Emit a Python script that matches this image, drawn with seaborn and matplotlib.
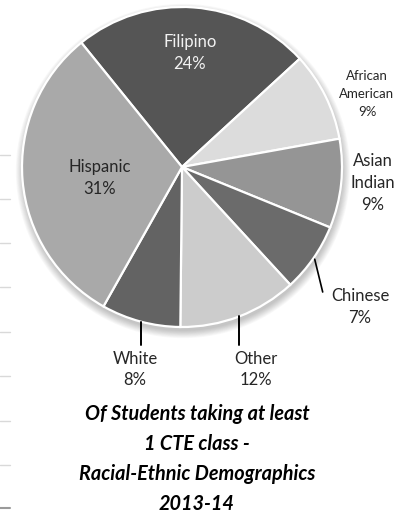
import numpy as np
import matplotlib
matplotlib.use("Agg")
import matplotlib.pyplot as plt
from matplotlib.patches import Circle
import seaborn as sns

# ---- data ----
categories = ["Filipino", "African\nAmerican", "Asian\nIndian", "Chinese", "Other", "White", "Hispanic"]
shares = [24, 9, 9, 7, 12, 8, 31]
colors = ["#555555", "#dcdcdc", "#959595", "#6b6b6b", "#cccccc", "#636363", "#a9a9a9"]
title_lines = ["Of Students taking at least", "1 CTE class -", "Racial-Ethnic Demographics", "2013-14"]
left_grid_px = [155, 199, 243, 287, 332, 376, 421, 465, 508]

sns.set_theme(style="white")
plt.rcParams["font.family"] = ["Lato", "DejaVu Sans"]

W, H = 405, 516
fig = plt.figure(figsize=(W / 100, H / 100), dpi=100)
ax = fig.add_axes([0, 0, 1, 1])

def py(y):  # pixel-from-top -> data y
    return H - y

cx, cy, R = 182, py(167), 160

# soft shadow
for k in range(10):
    ax.add_patch(Circle((cx + 1, cy - 4), R + k * 0.8, color="black", alpha=0.025, lw=0, zorder=0))

wedges, _ = ax.pie(shares, colors=colors, startangle=129, counterclock=False,
                   center=(cx, cy), radius=R,
                   wedgeprops=dict(edgecolor="white", linewidth=1.6))
for w in wedges:
    w.set_zorder(2)

ax.set_xlim(0, W)
ax.set_ylim(0, H)
ax.set_aspect("auto")
ax.axis("off")

def mid_edge(i, rr=1.0):
    w = wedges[i]
    a = np.deg2rad((w.theta1 + w.theta2) / 2)
    return cx + R * rr * np.cos(a), cy + R * rr * np.sin(a)

fs = 12
txt = "#262626"
pct = [f"{s}%" for s in shares]
# inside labels
ax.text(190, py(53), f"{categories[0]}\n{pct[0]}", ha="center", va="center", fontsize=fs,
        color="#f2f2f2", linespacing=1.5, zorder=5)
ax.text(100, py(178), f"{categories[6]}\n{pct[6]}", ha="center", va="center", fontsize=fs,
        color=txt, linespacing=1.5, zorder=5)
# outside labels
ax.text(367, py(94), f"{categories[1]}\n{pct[1]}", ha="center", va="center", fontsize=9.5,
        color=txt, linespacing=1.55)
ax.text(373, py(183), f"{categories[2]}\n{pct[2]}", ha="center", va="center", fontsize=fs,
        color=txt, linespacing=1.5)
ax.text(360, py(307), f"{categories[3]}\n{pct[3]}", ha="center", va="center", fontsize=fs,
        color=txt, linespacing=1.45)
ax.text(256, py(369.5), f"{categories[4]}\n{pct[4]}", ha="center", va="center", fontsize=fs,
        color=txt, linespacing=1.45)
ax.text(135, py(369.5), f"{categories[5]}\n{pct[5]}", ha="center", va="center", fontsize=fs,
        color=txt, linespacing=1.45)

# leader lines
x0, y0 = mid_edge(3, 1.01)
ax.plot([x0, x0 + 8], [y0, py(292)], color="black", lw=1.2, zorder=3)
for i in (4, 5):
    x0, y0 = mid_edge(i, 1.0)
    ax.plot([x0, x0], [y0, py(345)], color="black", lw=1.4, zorder=3)

# title
ax.text(197, py(459), "\n".join(title_lines), ha="center", va="center", fontsize=14.3,
        fontweight="bold", fontstyle="italic", color="black", linespacing=1.62)

# faint gridline stubs at left edge
for i, g in enumerate(left_grid_px):
    last = i == len(left_grid_px) - 1
    ax.plot([0, 10], [py(g), py(g)], color="#9a9a9a" if last else "#d9d9d9",
            lw=1.5 if last else 1.0, zorder=1)

fig.savefig("out.png", dpi=100)
